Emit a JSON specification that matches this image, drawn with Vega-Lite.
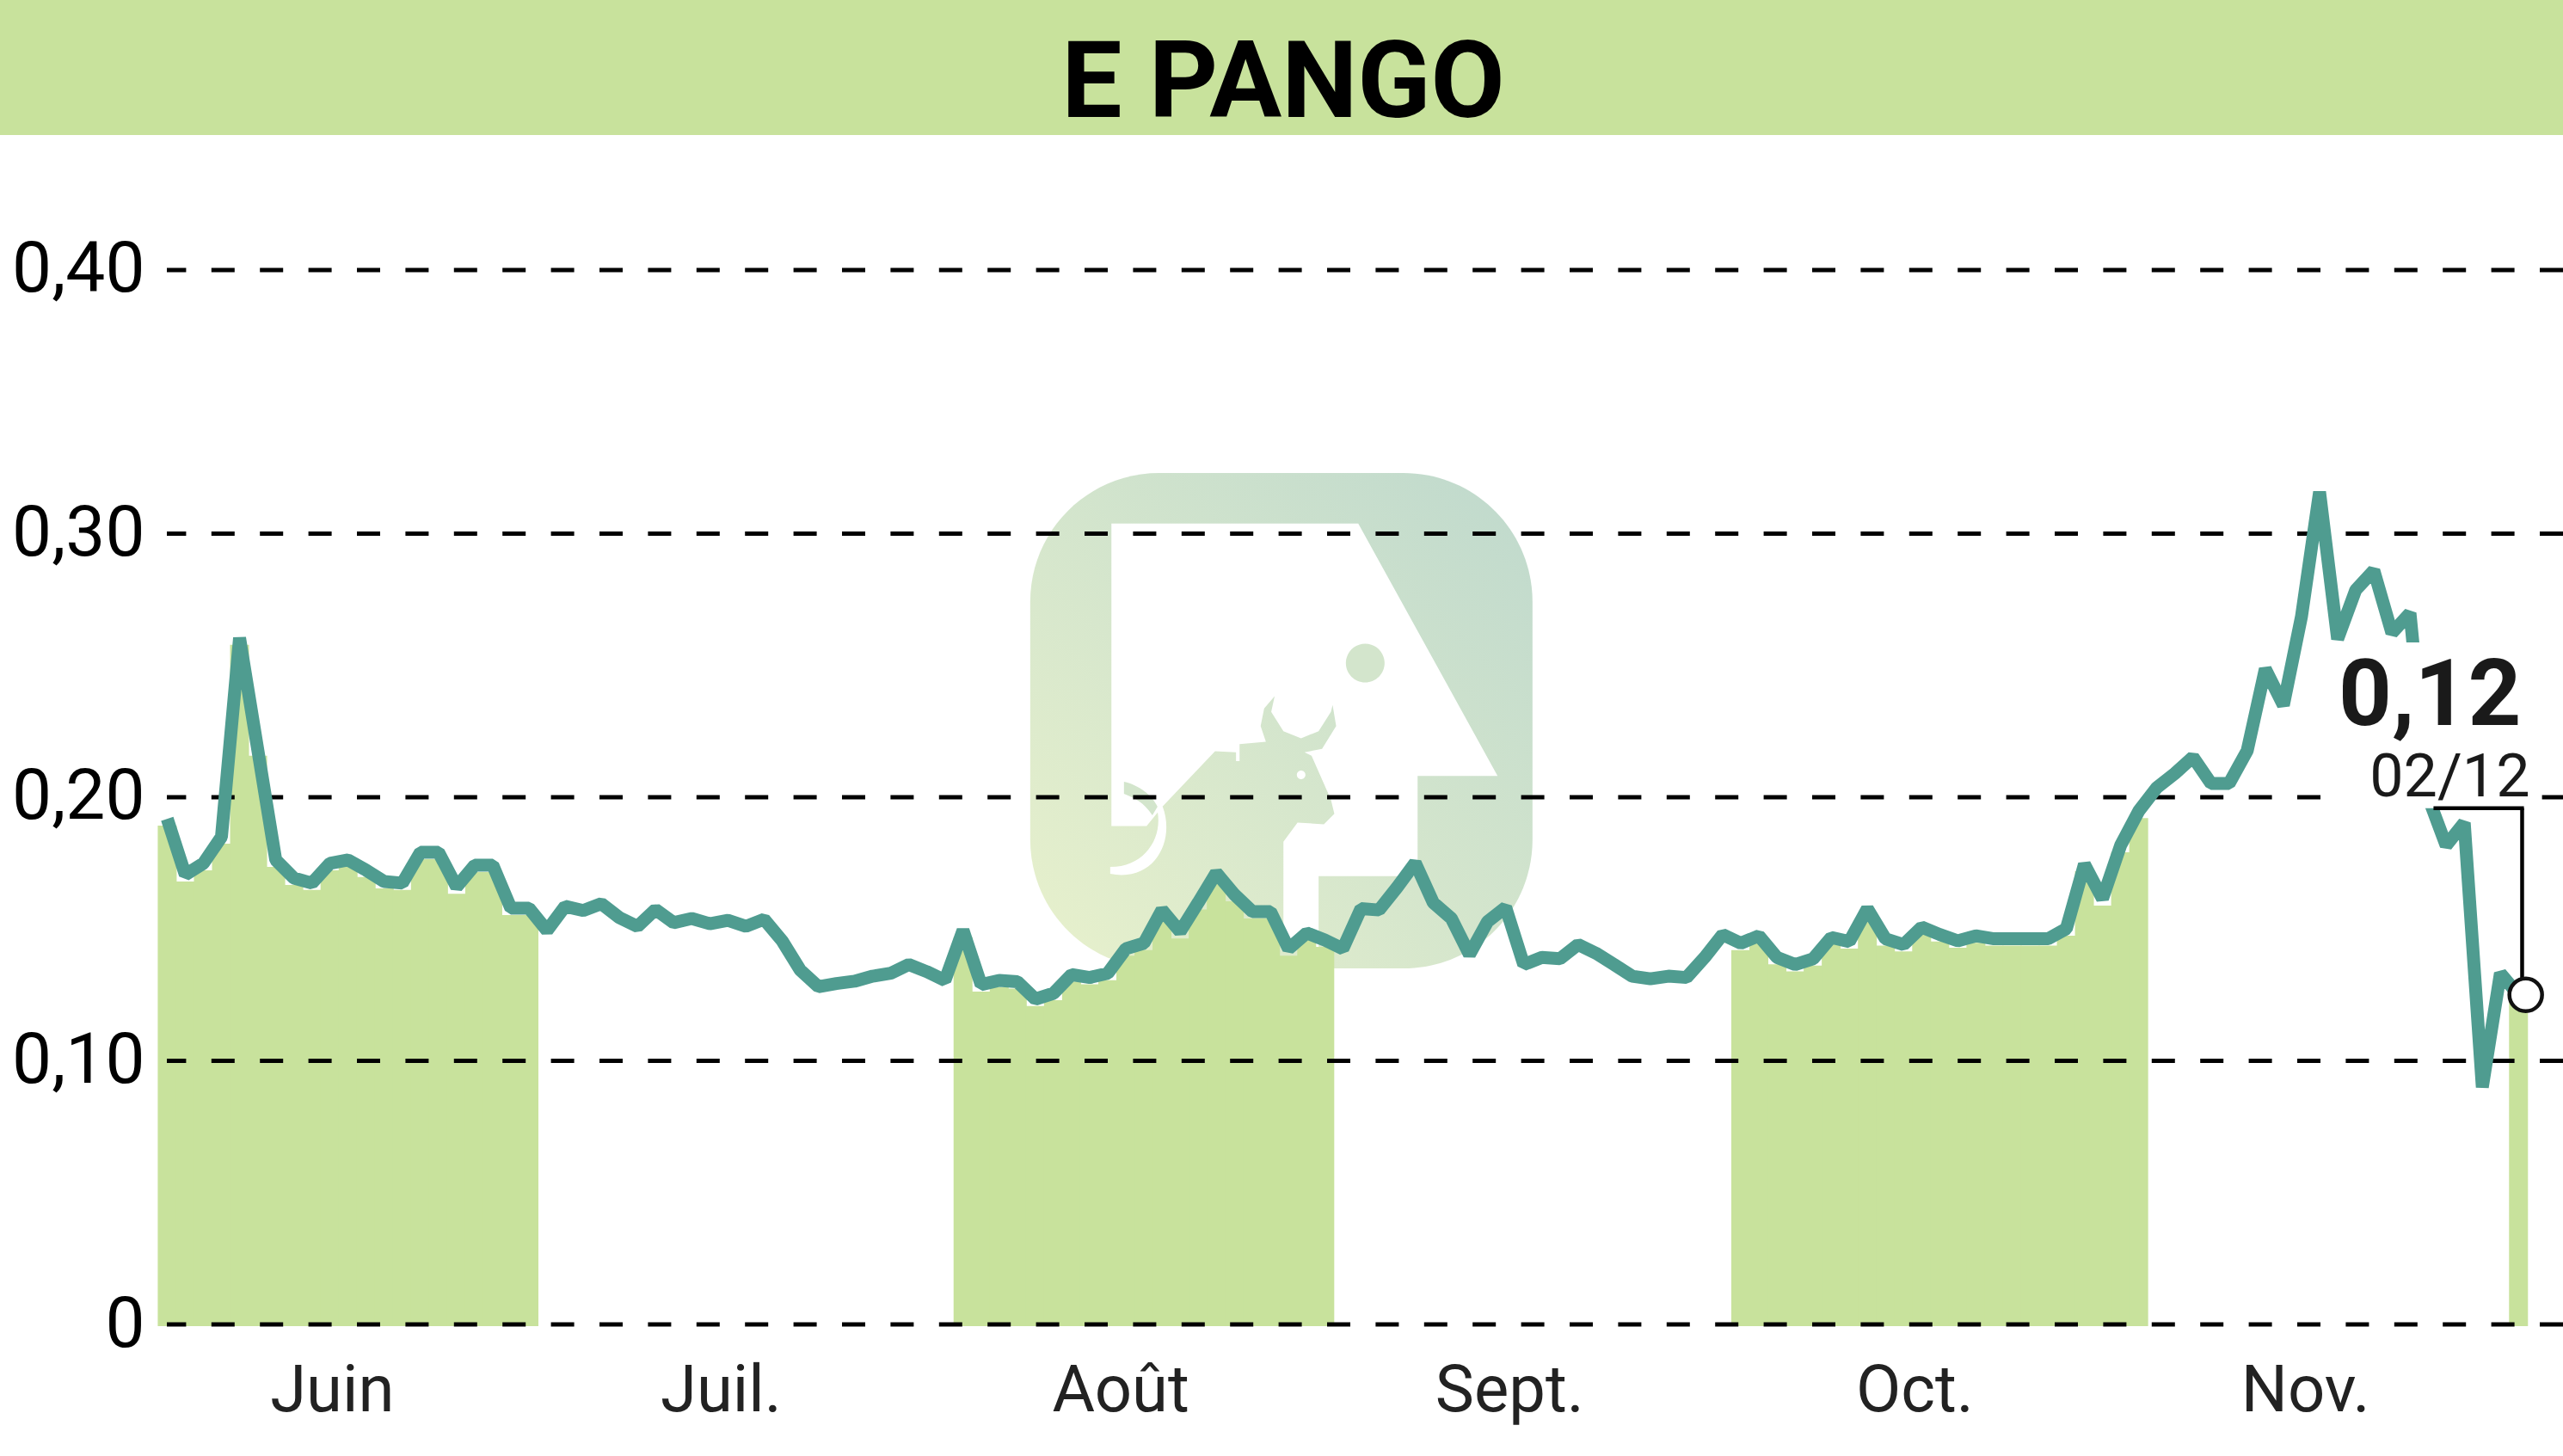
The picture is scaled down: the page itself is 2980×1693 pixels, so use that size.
{
  "$schema": "https://vega.github.io/schema/vega-lite/v6.json",
  "autosize": "none",
  "padding": {"left": 194, "top": 0, "right": 0, "bottom": 153},
  "width": 2786,
  "height": 1540,
  "background": "white",
  "view": {"stroke": null},
  "title": {
    "text": "E PANGO",
    "anchor": "middle",
    "frame": "group",
    "dx": -95,
    "dy": 261,
    "offset": 0,
    "baseline": "alphabetic",
    "font": "Roboto",
    "fontSize": 125,
    "fontWeight": "bold",
    "color": "black",
    "zindex": 1
  },
  "data": {"values": [{}]},
  "datasets": {
    "ticks": [{"tick": 0}, {"tick": 0.1}, {"tick": 0.2}, {"tick": 0.3}, {"tick": 0.4}],
    "cours": [
      {"day":0,"month":"Juin","price":0.1918},{"day":1,"month":"Juin","price":0.1706},{"day":2,"month":"Juin","price":0.1749},{"day":3,"month":"Juin","price":0.185},{"day":4,"month":"Juin","price":0.2604},{"day":5,"month":"Juin","price":0.2183},{"day":6,"month":"Juin","price":0.1762},{"day":7,"month":"Juin","price":0.1693},{"day":8,"month":"Juin","price":0.1674},{"day":9,"month":"Juin","price":0.1749},{"day":10,"month":"Juin","price":0.1762},{"day":11,"month":"Juin","price":0.1723},{"day":12,"month":"Juin","price":0.168},{"day":13,"month":"Juin","price":0.1674},{"day":14,"month":"Juin","price":0.1791},{"day":15,"month":"Juin","price":0.1791},{"day":16,"month":"Juin","price":0.166},{"day":17,"month":"Juin","price":0.1742},{"day":18,"month":"Juin","price":0.1742},{"day":19,"month":"Juin","price":0.1579},{"day":20,"month":"Juin","price":0.1579},
      {"day":21,"month":"Juil.","price":0.1494},{"day":22,"month":"Juil.","price":0.1586},{"day":23,"month":"Juil.","price":0.157},{"day":24,"month":"Juil.","price":0.1596},{"day":25,"month":"Juil.","price":0.1543},{"day":26,"month":"Juil.","price":0.151},{"day":27,"month":"Juil.","price":0.1574},{"day":28,"month":"Juil.","price":0.1524},{"day":29,"month":"Juil.","price":0.154},{"day":30,"month":"Juil.","price":0.152},{"day":31,"month":"Juil.","price":0.1533},{"day":32,"month":"Juil.","price":0.151},{"day":33,"month":"Juil.","price":0.1537},{"day":34,"month":"Juil.","price":0.1455},{"day":35,"month":"Juil.","price":0.1344},{"day":36,"month":"Juil.","price":0.1281},{"day":37,"month":"Juil.","price":0.1293},{"day":38,"month":"Juil.","price":0.1302},{"day":39,"month":"Juil.","price":0.1321},{"day":40,"month":"Juil.","price":0.1332},{"day":41,"month":"Juil.","price":0.1365},{"day":42,"month":"Juil.","price":0.1338},{"day":43,"month":"Juil.","price":0.1305},
      {"day":44,"month":"Août","price":0.1495},{"day":45,"month":"Août","price":0.1289},{"day":46,"month":"Août","price":0.1305},{"day":47,"month":"Août","price":0.13},{"day":48,"month":"Août","price":0.1234},{"day":49,"month":"Août","price":0.1256},{"day":50,"month":"Août","price":0.1327},{"day":51,"month":"Août","price":0.1316},{"day":52,"month":"Août","price":0.1332},{"day":53,"month":"Août","price":0.1425},{"day":54,"month":"Août","price":0.1446},{"day":55,"month":"Août","price":0.1572},{"day":56,"month":"Août","price":0.149},{"day":57,"month":"Août","price":0.16},{"day":58,"month":"Août","price":0.1713},{"day":59,"month":"Août","price":0.1631},{"day":60,"month":"Août","price":0.1566},{"day":61,"month":"Août","price":0.1566},{"day":62,"month":"Août","price":0.1425},{"day":63,"month":"Août","price":0.1485},{"day":64,"month":"Août","price":0.1458},
      {"day":65,"month":"Sept.","price":0.1425},{"day":66,"month":"Sept.","price":0.1577},{"day":67,"month":"Sept.","price":0.1572},{"day":68,"month":"Sept.","price":0.1658},{"day":69,"month":"Sept.","price":0.1751},{"day":70,"month":"Sept.","price":0.16},{"day":71,"month":"Sept.","price":0.154},{"day":72,"month":"Sept.","price":0.1403},{"day":73,"month":"Sept.","price":0.1528},{"day":74,"month":"Sept.","price":0.1582},{"day":75,"month":"Sept.","price":0.1365},{"day":76,"month":"Sept.","price":0.1392},{"day":77,"month":"Sept.","price":0.1387},{"day":78,"month":"Sept.","price":0.1441},{"day":79,"month":"Sept.","price":0.1408},{"day":80,"month":"Sept.","price":0.1365},{"day":81,"month":"Sept.","price":0.1321},{"day":82,"month":"Sept.","price":0.1311},{"day":83,"month":"Sept.","price":0.1321},{"day":84,"month":"Sept.","price":0.1316},{"day":85,"month":"Sept.","price":0.1392},{"day":86,"month":"Sept.","price":0.1479},
      {"day":87,"month":"Oct.","price":0.1446},{"day":88,"month":"Oct.","price":0.1474},{"day":89,"month":"Oct.","price":0.1392},{"day":90,"month":"Oct.","price":0.1365},{"day":91,"month":"Oct.","price":0.1387},{"day":92,"month":"Oct.","price":0.1468},{"day":93,"month":"Oct.","price":0.1452},{"day":94,"month":"Oct.","price":0.1577},{"day":95,"month":"Oct.","price":0.1463},{"day":96,"month":"Oct.","price":0.1441},{"day":97,"month":"Oct.","price":0.1507},{"day":98,"month":"Oct.","price":0.1479},{"day":99,"month":"Oct.","price":0.1455},{"day":100,"month":"Oct.","price":0.1474},{"day":101,"month":"Oct.","price":0.1463},{"day":102,"month":"Oct.","price":0.1463},{"day":103,"month":"Oct.","price":0.1463},{"day":104,"month":"Oct.","price":0.1463},{"day":105,"month":"Oct.","price":0.1501},{"day":106,"month":"Oct.","price":0.1745},{"day":107,"month":"Oct.","price":0.1615},{"day":108,"month":"Oct.","price":0.1817},{"day":109,"month":"Oct.","price":0.1947},
      {"day":110,"month":"Nov.","price":0.2036},{"day":111,"month":"Nov.","price":0.209},{"day":112,"month":"Nov.","price":0.2152},{"day":113,"month":"Nov.","price":0.2052},{"day":114,"month":"Nov.","price":0.2052},{"day":115,"month":"Nov.","price":0.2176},{"day":116,"month":"Nov.","price":0.2486},{"day":117,"month":"Nov.","price":0.2349},{"day":118,"month":"Nov.","price":0.2685},{"day":119,"month":"Nov.","price":0.3158},{"day":120,"month":"Nov.","price":0.26},{"day":121,"month":"Nov.","price":0.2786},{"day":122,"month":"Nov.","price":0.286},{"day":123,"month":"Nov.","price":0.2623},{"day":124,"month":"Nov.","price":0.2698},{"day":125,"month":"Nov.","price":0.2},{"day":126,"month":"Nov.","price":0.1817},{"day":127,"month":"Nov.","price":0.1903},{"day":128,"month":"Nov.","price":0.09},{"day":129,"month":"Nov.","price":0.1332},
      {"day":130,"month":"Déc.","price":0.125}
    ]
  },
  "layer": [
    {
      "mark": {"type": "rect", "color": "#c8e29c"},
      "encoding": {
        "x": {"datum": -10, "type": "quantitative", "scale": {"domain": [-0.02, 132.46], "nice": false, "zero": false, "padding": 0},
          "axis": {"title": null, "grid": false, "domain": false, "ticks": false, "values": [9.1, 30.6, 52.7, 74.2, 96.6, 118.2], "labelExpr": "datum.value<20?'Juin':datum.value<40?'Juil.':datum.value<60?'Août':datum.value<80?'Sept.':datum.value<100?'Oct.':'Nov.'", "labelFont": "Roboto", "labelFontSize": 76, "labelColor": "#222222", "labelPadding": 40, "labelOverlap": false, "labelFlush": false, "labelLimit": 500}},
        "x2": {"datum": 132.46},
        "y": {"datum": 0.4512, "type": "quantitative", "scale": {"domain": [0, 0.5024], "nice": false, "zero": false},
          "axis": {"title": null, "grid": false, "domain": false, "ticks": false, "values": [0, 0.1, 0.2, 0.3, 0.4], "labelExpr": "datum.value==0?'0':replace(format(datum.value,'.2f'),'.',',')", "labelFont": "Roboto", "labelFontSize": 82, "labelColor": "black", "labelPadding": 26, "labelOverlap": false, "labelFlush": false, "labelLimit": 500}},
        "y2": {"datum": 0.5024}
      }
    },
    {
      "mark": {"type": "point", "filled": true, "size": 4, "opacity": 1, "fill": {"gradient": "linear", "x1": 0, "y1": 1, "x2": 1, "y2": 0, "stops": [{"offset": 0, "color": "#e8f1cc"}, {"offset": 1, "color": "#bfd9cd"}]}, "shape": "M-142,-288 H142 C225,-288 292,-221 292,-138 V138 C292,221 225,288 142,288 H-142 C-225,288 -292,221 -292,138 V-138 C-292,-221 -225,-288 -142,-288 Z"},
      "encoding": {"x": {"datum": 61.6, "type": "quantitative"}, "y": {"datum": 0.229, "type": "quantitative"}}
    },
    {
      "mark": {"type": "point", "filled": true, "size": 4, "opacity": 1, "fill": "white", "shape": "M-197.6,-229.4 L89.4,-229.4 L251.4,64.1 L158.4,64.1 L158.4,180.8 L43.3,180.8 L43.3,263 L2.4,263 L2.4,140.8 L18.8,118.4 L49.4,120.4 L61.6,108.2 L57.6,91.8 L35.1,40.8 L26.9,36.7 L47.3,32.7 L63.7,6.1 L59.6,-18.4 L57.6,-10.2 L43.3,12.2 L22.9,20.4 L2.4,12.2 L-11.8,-10.2 L-7.8,-28.6 L-20,-14.3 L-24.1,6.1 L-18,24.5 L-48.6,27.3 L-48.6,46.9 L-52.7,46.9 L-52.7,36.7 L-77.1,35.5 L-138.4,100 L-156.7,122.4 L-197.6,122.4 Z M-199,170 C-155,170 -135,130 -146,98 L-138,100 C-123,140 -148,188 -199,178 Z M18,63 a5,5 0 1 0 10,0 a5,5 0 1 0 -10,0 Z"},
      "encoding": {"x": {"datum": 61.6, "type": "quantitative"}, "y": {"datum": 0.229, "type": "quantitative"}}
    },
    {
      "mark": {"type": "point", "filled": true, "size": 4, "opacity": 1, "fill": "#d3e5cc", "shape": "M-183,71 C-165,75 -150,87 -144,100 L-150,110 C-160,95 -170,90 -183,85 Z M75,-67 a22.5,22.5 0 1 0 45,0 a22.5,22.5 0 1 0 -45,0 Z"},
      "encoding": {"x": {"datum": 61.6, "type": "quantitative"}, "y": {"datum": 0.229, "type": "quantitative"}}
    },
    {
      "data": {"name": "cours"},
      "transform": [{"filter": {"field": "month", "oneOf": ["Juin", "Août", "Oct.", "Déc."]}}],
      "mark": {"type": "bar", "size": 22, "color": "#c8e29c", "opacity": 1, "yOffset": 8, "y2Offset": 2},
      "encoding": {
        "x": {"field": "day", "type": "quantitative"},
        "y": {"field": "price", "type": "quantitative"},
        "y2": {"datum": 0}
      }
    },
    {
      "data": {"name": "ticks"},
      "mark": {"type": "rule", "color": "black", "strokeWidth": 5, "strokeDash": [27, 29.4]},
      "encoding": {"y": {"field": "tick", "type": "quantitative"}}
    },
    {
      "data": {"name": "cours"},
      "mark": {"type": "line", "color": "#4f9c90", "strokeWidth": 15, "strokeJoin": "bevel"},
      "encoding": {
        "x": {"field": "day", "type": "quantitative"},
        "y": {"field": "price", "type": "quantitative"}
      }
    },
    {
      "mark": {"type": "rect", "color": "white"},
      "encoding": {
        "x": {"datum": 119.76, "type": "quantitative"},
        "x2": {"datum": 131.3},
        "y": {"datum": 0.1958, "type": "quantitative"},
        "y2": {"datum": 0.2587}
      }
    },
    {
      "mark": {"type": "rule", "color": "black", "strokeWidth": 4.5},
      "encoding": {
        "x": {"datum": 125.3, "type": "quantitative"},
        "x2": {"datum": 130.3},
        "y": {"datum": 0.1958, "type": "quantitative"}
      }
    },
    {
      "mark": {"type": "rule", "color": "black", "strokeWidth": 4.5},
      "encoding": {
        "x": {"datum": 130.2, "type": "quantitative"},
        "y": {"datum": 0.1958, "type": "quantitative"},
        "y2": {"datum": 0.125}
      }
    },
    {
      "mark": {"type": "point", "filled": true, "size": 1444, "opacity": 1, "fill": "white", "stroke": "#111111", "strokeWidth": 4.5, "shape": "circle"},
      "encoding": {"x": {"datum": 130.4, "type": "quantitative"}, "y": {"datum": 0.125, "type": "quantitative"}}
    },
    {
      "mark": {"type": "text", "text": "0,12", "font": "Roboto", "fontWeight": "bold", "fontSize": 108, "color": "#1a1a1a", "align": "center", "baseline": "alphabetic"},
      "encoding": {"x": {"datum": 125.1, "type": "quantitative"}, "y": {"datum": 0.2275, "type": "quantitative"}}
    },
    {
      "mark": {"type": "text", "text": "02/12", "font": "Roboto", "fontSize": 70, "color": "#1a1a1a", "align": "center", "baseline": "alphabetic"},
      "encoding": {"x": {"datum": 126.2, "type": "quantitative"}, "y": {"datum": 0.2003, "type": "quantitative"}}
    }
  ]
}
